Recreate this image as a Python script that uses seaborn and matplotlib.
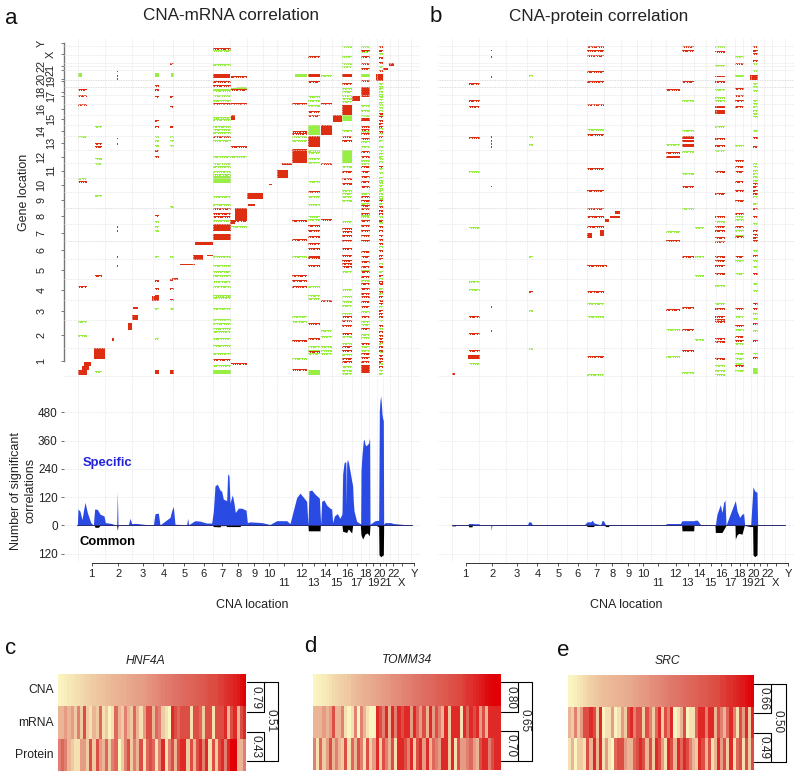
import numpy as np
import seaborn as sns
import matplotlib
matplotlib.use("Agg")
import matplotlib.pyplot as plt
from matplotlib.colors import ListedColormap, LinearSegmentedColormap

sns.set_style("white")
plt.rcParams["font.family"] = ["Liberation Sans", "DejaVu Sans"]

# genome position scale, 1 unit is about 3 Mb
X_MIN, X_MAX = 192, 1260
Y_MIN, Y_MAX = 115, 1135

chrom_labels = ["1", "2", "3", "4", "5", "6", "7", "8", "9", "10", "11", "12", "13", "14", "15",
                "16", "17", "18", "19", "20", "21", "22", "X", "Y"]
cna_ticks = [275, 355, 428, 490, 553, 611, 667, 715, 763, 808, 852, 905, 941, 975, 1010,
             1042, 1070, 1097, 1120, 1140, 1157, 1180, 1205, 1243]
gene_ticks = [1083, 1005, 933, 870, 810, 752, 700, 648, 602, 555, 513, 472, 430, 394, 358,
              327, 290, 278, 245, 237, 210, 198, 163, 130]
grid_x = [234, 316, 396, 460, 520, 580, 640, 690, 740, 788, 830, 875, 925, 960, 995, 1027,
          1055, 1083, 1108, 1130, 1150, 1170, 1195, 1232]
grid_y = [140, 165, 190, 198, 212, 285, 312, 345, 375, 408, 450, 490, 535, 578,
          672, 778, 838, 900, 962, 1045, 1128]
grid_y_dark = [240, 262, 625, 724]
count_ticks = [480, 360, 240, 120, 0, -120]
count_labels = ["480", "360", "240", "120", "0", "120"]

# panel a, red blocks near the diagonal and elsewhere (x0, x1, y0, y1)
a_red_blocks = [(252, 272, 1088, 1100), (245, 268, 1100, 1112), (234, 262, 1112, 1126),
                (282, 316, 1046, 1078), (335, 342, 1015, 1025), (385, 395, 970, 990),
                (395, 415, 945, 960), (400, 415, 922, 928), (455, 478, 890, 905),
                (515, 535, 835, 840), (540, 585, 792, 797), (578, 610, 765, 782),
                (620, 640, 765, 770), (585, 640, 728, 736), (640, 692, 702, 722),
                (640, 692, 672, 695), (690, 705, 660, 672), (705, 740, 625, 660),
                (740, 788, 580, 597), (745, 765, 612, 618), (808, 815, 552, 556),
                (832, 865, 510, 535), (845, 875, 490, 497), (875, 920, 448, 490),
                (925, 960, 410, 442), (962, 995, 375, 405), (998, 1027, 345, 367),
                (1027, 1055, 315, 345), (1055, 1080, 290, 305), (1083, 1110, 262, 292),
                (1128, 1148, 222, 245), (1150, 1165, 205, 212), (1168, 1183, 190, 200),
                (640, 690, 222, 234), (925, 960, 222, 232), (1027, 1055, 222, 232),
                (1083, 1110, 355, 365), (692, 705, 345, 360), (510, 522, 1110, 1124),
                (465, 476, 1110, 1124), (1083, 1110, 1095, 1120)]
a_green_blocks = [(234, 246, 220, 232), (465, 477, 220, 232), (512, 522, 220, 232),
                  (640, 692, 530, 550), (925, 960, 375, 405), (1027, 1055, 450, 490),
                  (1027, 1055, 347, 365), (925, 960, 1110, 1126), (710, 740, 262, 272),
                  (640, 692, 1112, 1124), (885, 920, 222, 232), (1083, 1110, 222, 232)]

# panel a, stripes over one chromosome band (gene positions)
a_chr7_green = [150, 192, 268, 272, 287, 300, 352, 358, 378, 388, 398, 420, 470, 490, 500, 515,
                524, 590, 612, 662, 768, 795, 815, 825, 845, 860, 885, 892, 925, 957, 970, 985,
                995, 1015, 1035, 1060, 1095]
a_chr7_red = [145, 245, 255, 310, 410, 625, 640, 650, 1078]
a_chr12_green = [410, 420, 770, 1075, 950, 965]
a_chr12_red = [310, 395, 400, 660, 718, 825, 842, 858, 1020, 1108]
a_chr13_green = [290, 300, 315, 452, 458, 475, 487, 545, 590, 612, 650, 658, 860, 885, 895,
                 1040, 1050, 1060]
a_chr13_red = [170, 245, 335, 345, 575, 675, 690, 710, 730, 745, 768, 772, 795, 970, 1015, 1055]
a_chr14_green = [225, 990, 1010, 1040, 1050, 1060]
a_chr14_red = [900, 310, 490, 658]
a_chr16_green = [140, 170, 190, 200, 265, 275, 285, 295, 305, 390, 500, 570, 580, 590, 600, 665, 815,
                 868, 890, 905, 915, 940, 1010, 1030, 1062, 1100, 1120, 1110]
a_chr16_red = [250, 410, 420, 515, 535, 550, 685, 695, 705, 720, 745, 765, 780, 790, 800, 948, 960,
               975, 1000, 1040, 1050, 1075, 1085]
a_chr18_green = [140, 155, 315, 330, 345, 395, 425, 440, 480, 490, 580, 610, 645, 650, 810, 840, 935,
                 965, 972, 1002, 1012, 1040, 1050]
a_chr18_red = [150, 170, 190, 205, 240, 378, 388, 400, 415, 455, 470, 500, 515, 530, 545, 560, 590, 600,
               615, 625, 640, 662, 675, 690, 705, 720, 755, 770, 785, 800, 815, 830, 850, 865, 880, 890,
               905, 920, 950, 985, 1030, 1060, 1072, 1085]
a_chr20_green = [160, 200, 250, 258, 266, 274, 282, 290, 298, 306, 314, 322, 330, 345, 385, 400, 420,
                 440, 452, 460, 468, 476, 484, 505, 518, 532, 540, 548, 556, 564, 572, 580, 588, 596,
                 610, 650, 668, 740, 790, 815, 835, 865, 880, 920, 960, 985, 1030, 1055, 1090, 1110, 1120]
a_chr20_red = [140, 150, 172, 188, 212, 340, 350, 360, 370, 378, 395, 410, 500, 600, 620, 630, 640, 660,
               680, 690, 705, 718, 730, 750, 765, 775, 800, 825, 845, 850, 875, 890, 900, 910, 930, 940,
               950, 975, 995, 1005, 1015, 1025, 1040, 1050, 1065, 1075, 1085, 1100]
a_chr1_green = [1005, 965, 535, 410]
a_chr1_red = [268, 285, 312, 545, 858]
a_chr2_green = [380, 475, 490, 585, 1115]
a_chr2_red = [430, 440, 825]
a_chr4_green = [410, 420, 435, 665, 678, 690, 768, 925, 1015]
a_chr4_red = [255, 268, 290, 362, 380, 450, 470, 645, 840, 865, 885, 895]
a_chr5_green = [410, 420, 435, 620, 770, 925]
a_chr5_red = [190, 288, 320, 380, 865, 898, 838]
a_chr8_green = [470, 265, 680]
a_chr8_red = [230, 268, 310, 438, 660, 1090]
a_chr2b_red = [215, 225, 235, 415, 430, 680, 690, 770, 795]

# panel b, same kind of data
b_red_blocks = [(234, 244, 1120, 1125), (694, 704, 658, 668), (709, 739, 650, 654), (724, 739, 635, 642),
                (924, 959, 410, 417), (924, 959, 422, 428), (924, 959, 432, 442), (1129, 1151, 225, 240),
                (1024, 1054, 332, 342), (1024, 1054, 320, 326), (639, 655, 700, 716), (678, 690, 692, 708),
                (876, 919, 470, 474), (1024, 1054, 228, 232), (283, 318, 1067, 1078)]
b_green_blocks = [(1084, 1110, 225, 232), (1136, 1151, 1105, 1122)]
b_chr7_green = [388, 910, 948, 1122]
b_chr7_red = [140, 150, 165, 213, 245, 313, 403, 505, 570, 625, 650, 678, 875, 1070]
b_chr7w_red = [795]
b_chr12_green = [432, 695, 988, 1070]
b_chr12_red = [268, 458, 720, 928]
b_chr13_green = [300, 390, 455, 625, 520, 1118, 988]
b_chr13_red = [140, 150, 245, 560, 768, 922, 988, 1050]
b_chr14_green = [825, 768, 682, 1018]
b_chr16_green = [140, 195, 268, 292, 300, 380, 450, 665, 855, 910, 1095, 1110, 1122]
b_chr16_red = [155, 245, 415, 435, 515, 580, 650, 680, 690, 712, 725, 770, 780, 795, 820, 925, 950,
               958, 965, 1015, 1025, 1075]
b_chr18_green = [170, 435, 650, 658, 692, 705, 780, 820, 948, 988, 1030, 1060, 1075, 1090, 1110]
b_chr18_red = [190, 265, 285, 300, 320, 480, 500, 515, 545, 570, 600, 640, 680, 710, 770, 925, 975,
               1010, 1020, 1095]
b_chr20_green = [190, 210, 250, 260, 270, 300, 310, 320, 330, 340, 350, 390, 490, 500, 510, 520, 530, 540,
                 590, 610, 670, 750, 780, 800, 850, 870, 940, 955, 990, 1060]
b_chr20_red = [140, 150, 160, 180, 413, 438, 550, 560, 570, 580, 625, 650, 692, 702, 712, 722, 765, 820,
               910, 925, 970, 1020, 1072]
b_chr1_green = [515, 682, 845, 868, 1090]
b_chr1_red = [250, 300, 318, 412, 950, 1000, 1052]
b_chr4_green = [225, 410, 432, 930, 768, 1045]
b_chr4_red = [875]
b_chr2b_red = [150, 170, 230, 410, 420, 430, 440, 560, 920, 990]

# second row of a stripe is broken up in the picture, this is its on/off look
stripe_pattern = [1, 0, 1, 1, 0, 0, 1, 0, 1, 1, 1, 0, 0, 1, 0, 1, 0]

# counts of significant correlations along the genome
a_pos = [232, 234, 240, 246, 252, 255, 262, 272, 280, 284, 292, 300, 312, 316, 335, 350, 352, 354, 385, 390,
         395, 412, 460, 465, 475, 480, 510, 515, 520, 525, 560, 563, 566, 585, 600, 620, 635, 640, 645, 652,
         660, 665, 670, 680, 683, 687, 690, 697, 702, 706, 715, 725, 738, 742, 750, 785, 810, 830, 860, 870,
         878, 890, 900, 910, 920, 924, 927, 935, 945, 958, 962, 965, 972, 980, 990, 995, 998, 1003, 1012, 1020,
         1026, 1028, 1032, 1037, 1038, 1039, 1040, 1042, 1045, 1048, 1050, 1053, 1055, 1058, 1060, 1062, 1070,
         1080, 1082, 1083, 1086, 1090, 1092, 1095, 1098, 1103, 1106, 1108, 1109, 1110, 1125, 1136, 1138, 1140,
         1142, 1144, 1146, 1148, 1150, 1151, 1155, 1172, 1180, 1235]
a_specific = [0, 70, 60, 25, 75, 98, 55, 13, 0, 70, 68, 48, 40, 12, 8, 0, 145, 0, 2, 30,
              8, 8, 0, 50, 52, 2, 34, 62, 80, 5, 3, 30, 3, 20, 18, 10, 10, 60, 168, 175,
              150, 145, 112, 105, 220, 210, 95, 130, 95, 55, 73, 73, 65, 12, 15, 12, 4, 20, 20, 8,
              52, 118, 137, 120, 102, 0, 147, 150, 133, 116, 3, 102, 108, 86, 73, 70, 12, 40, 50, 30,
              50, 218, 265, 272, 240, 80, 260, 280, 270, 246, 230, 207, 190, 168, 100, 62, 17,
              8, 8, 232, 300, 360, 367, 345, 338, 345, 350, 370, 360, 5, 20, 22, 487, 530,
              550, 520, 473, 455, 445, 5, 12, 12, 8, 1]
a_common_pos = [234, 283, 285, 295, 300, 350, 352, 354, 638, 640, 660, 662, 678, 680, 720, 722, 924, 925, 960, 961,
                1026, 1028, 1040, 1045, 1055, 1058, 1081, 1083, 1088, 1095, 1102, 1108, 1110, 1129, 1136, 1137,
                1142, 1150, 1151, 1235]
a_common = [0, 0, 8, 8, 0, 0, 22, 0, 0, 5, 6, 1, 1, 5, 5, 0, 0, 23, 23, 0, 0, 25, 30, 15, 32, 0, 0, 40, 58, 37, 32,
            44, 0, 0, 6, 125, 133, 125, 0, 0]
b_pos = [234, 244, 280, 284, 295, 300, 315, 318, 460, 464, 470, 476, 630, 639, 650, 655, 659, 665, 680, 684, 688,
         695, 705, 870, 879, 919, 924, 959, 964, 970, 980, 1020, 1024, 1029, 1036, 1039, 1044, 1049, 1053, 1056,
         1084, 1089, 1097, 1104, 1109, 1112, 1130, 1137, 1142, 1149, 1151, 1234]
b_specific = [3, 3, 1, 8, 8, 7, 7, 1, 1, 15, 15, 1, 1, 15, 15, 22, 12, 8, 3, 20, 20, 3, 3, 1, 8, 8, 20, 20,
              22, 22, 3, 1, 1, 48, 76, 88, 55, 98, 107, 1, 105, 62, 34, 48, 50, 1, 1, 164, 147, 140, 1, 1]
b_common_pos = [234, 244, 245, 283, 284, 294, 295, 351, 352, 353, 638, 639, 659, 660, 693, 694, 704, 705, 923, 924,
                959, 960, 1023, 1024, 1039, 1044, 1056, 1083, 1084, 1089, 1094, 1104, 1111, 1129, 1136, 1137, 1142,
                1149, 1150, 1234]
b_common = [2, 2, 0, 0, 6, 6, 0, 0, 23, 0, 0, 5, 5, 0, 0, 5, 5, 0, 0, 23, 23, 0, 0, 30, 30, 30, 0, 0, 58, 40, 34, 37,
            0, 5, 5, 125, 133, 125, 0, 0]

# sample colour levels 0-9, samples sorted by CNA
c_cna = [0, 0.2, 0.4, 0.6, 0.8, 1, 1.1, 1.3, 1.5, 1.7, 1.9, 2, 2.2, 2.3, 2.4, 2.6, 2.7, 2.9, 3, 3.1,
         3.2, 3.3, 3.5, 3.6, 3.7, 3.8, 3.9, 4, 4.2, 4.3, 4.5, 4.6, 4.8, 5, 5.1, 5.2, 5.4, 5.5, 5.6, 5.7,
         5.9, 6, 6.1, 6.2, 6.3, 6.5, 6.6, 6.8, 7, 7.1, 7.2, 7.4, 7.5, 7.7, 7.9, 8, 8.2, 8.4, 8.7, 9]
c_mrna = [3, 3, 4, 3, 4, 2, 5, 2, 7, 2, 1, 3, 2, 6, 1, 2, 0, 1, 6, 3, 2, 5, 3, 2, 6, 3, 1, 4, 7, 7,
          3, 6, 5, 2, 1, 0, 8, 7, 6, 7, 7, 7, 1, 7, 7, 6, 2, 7, 7, 1, 7, 7, 7, 8, 3, 7, 8, 3, 7, 8]
c_prot = [5, 6, 5, 3, 2, 1, 1, 4, 4, 2, 7, 2, 7, 4, 3, 6, 2, 5, 6, 0, 2, 5, 7, 2, 5, 3, 7, 1, 6, 7,
          6, 1, 5, 8, 1, 5, 7, 3, 7, 8, 8, 2, 7, 3, 7, 8, 5, 8, 1, 7, 2, 7, 8, 5, 8, 9, 9, 3, 3, 5]
d_cna = [0, 0.2, 0.3, 0.5, 0.7, 1, 1.3, 1.5, 1.7, 1.8, 2, 2.2, 2.5, 2.7, 2.9, 3, 3.2, 3.3, 3.4, 3.6,
         3.7, 3.8, 4, 4.1, 4.2, 4.4, 4.5, 4.6, 4.8, 4.9, 5, 5.1, 5.3, 5.4, 5.5, 5.7, 5.8, 5.9, 6, 6.2,
         6.3, 6.4, 6.6, 6.8, 6.9, 7, 7.2, 7.3, 7.5, 7.7, 7.8, 8, 8.1, 8.3, 8.5, 8.7, 8.8, 8.9, 9, 9]
d_mrna = [3, 3, 3, 4, 3, 4, 7, 3, 3, 5, 1, 0, 1, 5, 0, 5, 3, 1, 0, 0, 8, 7, 5, 8, 3, 8, 5, 8, 7, 8,
          8, 4, 8, 6, 4, 7, 3, 8, 4, 7, 5, 3, 8, 2, 8, 8, 8, 1, 8, 6, 8, 7, 8, 4, 7, 3, 8, 8, 8, 8]
d_prot = [5, 1, 6, 2, 4, 7, 3, 5, 3, 2, 7, 1, 6, 3, 7, 5, 1, 7, 2, 4, 8, 2, 7, 5, 3, 7, 1, 8, 8, 7,
          5, 8, 2, 7, 8, 4, 8, 3, 6, 5, 4, 8, 8, 2, 8, 1, 7, 4, 4, 5, 6, 4, 3, 7, 8, 8, 5, 7, 8, 8]
e_cna = [0, 0.1, 0.3, 0.6, 0.9, 1.2, 1.5, 1.8, 2, 2.2, 2.4, 2.6, 2.7, 2.8, 2.9, 3, 3.1, 3.2, 3.3, 3.4,
         3.5, 3.7, 3.8, 4, 4.1, 4.2, 4.4, 4.5, 4.6, 4.7, 4.9, 5, 5.2, 5.3, 5.4, 5.5, 5.6, 5.8, 5.9, 6,
         6.1, 6.2, 6.4, 6.5, 6.6, 6.8, 6.9, 7, 7.2, 7.4, 7.5, 7.7, 7.8, 8, 8.1, 8.3, 8.4, 8.6, 8.8, 9]
e_mrna = [3, 2, 5, 2, 4, 7, 7, 8, 7, 2, 8, 0, 1, 1, 4, 0, 1, 4, 2, 7, 8, 5, 7, 7, 2, 7, 5, 2, 6, 8,
          2, 7, 5, 8, 0, 1, 3, 7, 0, 1, 1, 6, 8, 8, 5, 8, 8, 3, 7, 5, 3, 6, 8, 5, 1, 7, 4, 8, 2, 8]
e_prot = [1, 3, 0, 2, 2, 1, 7, 3, 8, 3, 8, 1, 4, 1, 0, 6, 7, 7, 4, 3, 3, 6, 7, 8, 7, 3, 7, 2, 8, 7,
          4, 1, 8, 7, 3, 8, 6, 8, 7, 5, 3, 2, 8, 7, 3, 7, 1, 3, 8, 4, 7, 2, 8, 1, 6, 7, 1, 7, 2, 7]

row_names = ["CNA", "mRNA", "Protein"]
GREEN, RED = 1, 2
W, H = 800, 780


def box(x0, y0, x1, y1):
    # axes rectangle given in picture pixels, y going down
    return [x0 / W, 1 - y1 / H, (x1 - x0) / W, (y1 - y0) / H]


def col(x):
    return int(round((x - X_MIN) / 3))


def row(y):
    return int(round((y - Y_MIN) / 3))


def paint_blocks(m, blocks, val):
    for x0, x1, y0, y1 in blocks:
        m[row(y0):max(row(y1), row(y0) + 1), col(x0):col(x1)] = val


def paint_stripes(m, x0, x1, ys, val):
    n = len(stripe_pattern)
    for y in ys:
        r = row(y)
        m[r, col(x0):col(x1)] = val
        for c in range(col(x0), col(x1)):
            if stripe_pattern[(c + r * 7) % n]:
                m[r + 1, c] = val


def panel_matrix(blocks, bands):
    m = np.zeros((row(Y_MAX), col(X_MAX)))
    paint_blocks(m, blocks[1], GREEN)
    for x0, x1, green, red in bands:
        paint_stripes(m, x0, x1, green, GREEN)
        paint_stripes(m, x0, x1, red, RED)
    paint_blocks(m, blocks[0], RED)
    return m


a_bands = [(640, 692, a_chr7_green, a_chr7_red), (875, 920, a_chr12_green, a_chr12_red),
           (925, 960, a_chr13_green, a_chr13_red), (962, 995, a_chr14_green, a_chr14_red),
           (1027, 1055, a_chr16_green, a_chr16_red), (1083, 1110, a_chr18_green, a_chr18_red),
           (1137, 1150, a_chr20_green, a_chr20_red), (234, 262, a_chr1_green, a_chr1_red),
           (285, 305, a_chr2_green, a_chr2_red), (465, 477, a_chr4_green, a_chr4_red),
           (510, 522, a_chr5_green, a_chr5_red), (692, 740, a_chr8_green, a_chr8_red),
           (351, 354, [], a_chr2b_red)]
b_bands = [(639, 690, b_chr7_green, b_chr7_red), (639, 700, [], b_chr7w_red),
           (876, 919, b_chr12_green, b_chr12_red), (924, 959, b_chr13_green, b_chr13_red),
           (964, 990, b_chr14_green, []), (1024, 1054, b_chr16_green, b_chr16_red),
           (1084, 1110, b_chr18_green, b_chr18_red), (1136, 1151, b_chr20_green, b_chr20_red),
           (284, 317, b_chr1_green, b_chr1_red), (464, 478, b_chr4_green, b_chr4_red),
           (351, 354, [], b_chr2b_red)]
heat_cmap = ListedColormap(["#FFFFFF", "#99EE44", "#DD2E12"])
sample_cmap = LinearSegmentedColormap.from_list(
    "cna", ["#FBF5C2", "#F0CFA5", "#E8A68C", "#DF7468", "#DC4A40", "#E00006"])

fig = plt.figure(figsize=(W / 100, H / 100), dpi=100)


def draw_top(x0, x1, m, left_axis):
    ax = fig.add_axes(box(x0, 38, x1, 378))
    sns.heatmap(m, cmap=heat_cmap, vmin=0, vmax=2, cbar=False, ax=ax,
                xticklabels=False, yticklabels=False, antialiased=True)
    for gx in grid_x:
        ax.axvline((gx - X_MIN) / 3, color="#E4E4E4", lw=0.6, ls=(0, (1, 1)), zorder=3)
    for gy in grid_y:
        ax.axhline((gy - Y_MIN) / 3, color="#E4E4E4", lw=0.6, ls=(0, (1, 1)), zorder=3)
    for gy in grid_y_dark:
        ax.axhline((gy - Y_MIN) / 3, color="#D2D2D2", lw=0.6, ls=(0, (1, 1)), zorder=3)
    if left_axis:
        ax.spines["left"].set_visible(True)
        ax.spines["left"].set_color("#777777")
        ax.spines["left"].set_linewidth(1)
        ax.spines["left"].set_bounds((gene_ticks[0] - Y_MIN) / 3, (gene_ticks[-1] - Y_MIN) / 3)
        ax.set_yticks([(g - Y_MIN) / 3 for g in gene_ticks], chrom_labels, rotation=90,
                      va="center", fontsize=7.8, color="#222222")
        ax.tick_params(axis="y", left=True, length=2.5, width=0.7, color="#777777")
        for i, t in enumerate(ax.yaxis.get_major_ticks()):
            # second row from chromosome 11 on, every other label
            t.set_pad(3.4 if (i >= 10 and i % 2 == 0) else 10.2)
        ax.set_ylabel("Gene location", fontsize=9, color="#222222")
        ax.yaxis.set_label_coords(-0.095, 0.545)
    return ax


def draw_counts(x0, x1, pos, spec, cpos, comm, left_axis):
    ax = fig.add_axes(box(x0, 378, x1, 562.7))
    ax.fill_between(pos, 0, spec, color="#2A4BE3", lw=0)
    ax.fill_between(cpos, 0, [-v for v in comm], color="black", lw=0)
    sns.lineplot(x=[pos[0], pos[-1]], y=[0, 0], color="#2B2B70", lw=0.7, ax=ax)
    for gx in grid_x:
        ax.axvline(gx, color="#E4E4E4", lw=0.6, ls=(0, (1, 1)), zorder=0.5)
    for t in count_ticks:
        ax.axhline(t, color="#E4E4E4", lw=0.6, ls=(0, (1, 1)), zorder=0.5)
    ax.set_xlim(X_MIN, X_MAX)
    ax.set_ylim(-158.4, 626)
    for s in ["top", "right", "left"]:
        ax.spines[s].set_visible(False)
    ax.spines["bottom"].set_color("#333333")
    ax.spines["bottom"].set_linewidth(0.7)
    ax.spines["bottom"].set_bounds(cna_ticks[0], cna_ticks[-1])
    ax.set_xticks(cna_ticks, chrom_labels, fontsize=8, color="#222222")
    ax.tick_params(axis="x", bottom=True, length=2.5, width=0.6, color="#333333")
    for i, t in enumerate(ax.xaxis.get_major_ticks()):
        # 11, 13, ... 21 and X sit on a lower row
        t.set_pad(8.8 if chrom_labels[i] in ("11", "13", "15", "17", "19", "21", "X") else 2)
    ax.set_xlabel("CNA location", fontsize=9, color="#222222")
    ax.xaxis.set_label_coords(0.53, -0.195)
    if left_axis:
        ax.set_yticks(count_ticks, count_labels, fontsize=8.5, color="#222222")
        ax.tick_params(axis="y", left=True, length=2.5, width=0.6, pad=2, color="#555555")
    else:
        ax.set_yticks([])
    return ax


draw_top(64, 420, panel_matrix((a_red_blocks, a_green_blocks), a_bands), True)
draw_top(438, 794, panel_matrix((b_red_blocks, b_green_blocks), b_bands), False)
ax_c = draw_counts(64, 420, a_pos, a_specific, a_common_pos, a_common, True)
ax_c.set_ylabel("Number of significant\ncorrelations", fontsize=9, color="#222222", linespacing=1.25)
ax_c.yaxis.set_label_coords(-0.078, 0.39)
draw_counts(438, 794, b_pos, b_specific, b_common_pos, b_common, False)

# sample heatmaps c, d, e
samples = [((58, 674.3, 246, 770.7), [c_cna, c_mrna, c_prot]),
           ((313, 673.7, 500.7, 770), [d_cna, d_mrna, d_prot]),
           ((567.7, 675, 754.3, 770), [e_cna, e_mrna, e_prot])]
for i, (rect, rows) in enumerate(samples):
    ax = fig.add_axes(box(*rect))
    sns.heatmap(np.array(rows) / 9, cmap=sample_cmap, vmin=0, vmax=1, cbar=False, ax=ax,
                xticklabels=False, yticklabels=row_names if i == 0 else False, rasterized=True)
    if i == 0:
        ax.tick_params(axis="y", length=0, pad=3)
        plt.setp(ax.get_yticklabels(), rotation=0, fontsize=8.7, color="#222222")

# overlay in picture pixels for brackets and free text
ann = fig.add_axes([0, 0, 1, 1], zorder=10)
ann.set_xlim(0, W)
ann.set_ylim(H, 0)
ann.axis("off")
ann.patch.set_alpha(0)

brackets = [(246.5, 278.3, 264, 682.3, 761, 711.7, 731.7, ["0.79", "0.43", "0.51"]),
            (500.7, 532.3, 518.3, 682.3, 760.7, 711.7, 730.7, ["0.80", "0.70", "0.65"]),
            (754.3, 785.7, 771, 684, 761.7, 713.3, 732.7, ["0.66", "0.49", "0.50"])]
for x0, x2, x1, top, bot, m1, m2, vals in brackets:
    ann.plot([x0, x2, x2, x0], [top, top, bot, bot], color="black", lw=0.8)
    ann.plot([x1, x1, x0], [top, m1, m1], color="black", lw=0.8)
    ann.plot([x0, x1, x1], [m2, m2, bot], color="black", lw=0.8)
    ann.text((x0 + x1) / 2 + 0.5, (top + m1) / 2, vals[0], rotation=-90, ha="center", va="center", fontsize=8.5)
    ann.text((x0 + x1) / 2 + 0.5, (m2 + bot) / 2, vals[1], rotation=-90, ha="center", va="center", fontsize=8.5)
    ann.text((x1 + x2) / 2 - 0.5, (top + bot) / 2 - 1, vals[2], rotation=-90, ha="center", va="center", fontsize=8.5)

ann.text(231, 16, "CNA-mRNA correlation", ha="center", va="center", fontsize=12.3, color="#222222")
ann.text(599, 16, "CNA-protein correlation", ha="center", va="center", fontsize=12.3, color="#222222")
for letter, lx, ly in [("a", 11, 18), ("b", 436, 17), ("c", 11, 648), ("d", 310, 647), ("e", 563, 650)]:
    ann.text(lx, ly, letter, ha="center", va="center", fontsize=16, color="#111111")
for gene, gx, gy in [("HNF4A", 146, 661), ("TOMM34", 407, 660), ("SRC", 667, 661)]:
    ann.text(gx, gy, gene, ha="center", va="center", fontsize=8.7, style="italic", color="#222222")
ann.text(107, 463, "Specific", ha="center", va="center", fontsize=9.4, weight="bold", color="#2222DD")
ann.text(107, 542, "Common", ha="center", va="center", fontsize=9.4, weight="bold", color="black")

fig.savefig("out.png", dpi=100)
